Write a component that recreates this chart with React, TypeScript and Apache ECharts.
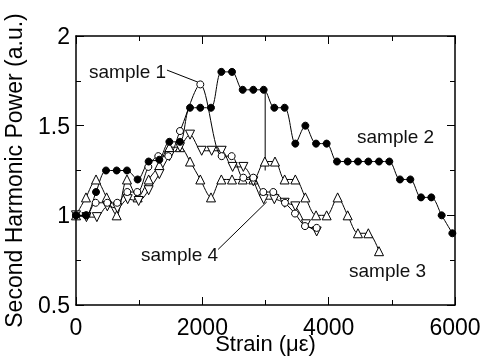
import React, { useEffect, useRef } from "react";
import * as echarts from "echarts";

const strain1 = [0, 165, 311, 495, 653, 812, 970, 1145, 1303, 1461, 1646, 1968, 2306, 2464, 2649, 2807, 2965, 3123, 3308, 3467, 3625, 3810];
const power1 = [1.0, 1.0, 1.07, 1.07, 1.07, 1.13, 1.13, 1.27, 1.33, 1.33, 1.47, 1.73, 1.33, 1.33, 1.21, 1.21, 1.13, 1.13, 1.07, 1.01, 0.94, 0.93];

const strain2 = [0, 158, 317, 475, 644, 807, 976, 1150, 1319, 1478, 1646, 1805, 1968, 2137, 2301, 2470, 2639, 2807, 2971, 3140, 3303, 3472, 3631, 3800, 3968, 4132, 4301, 4464, 4628, 4797, 4960, 5129, 5293, 5462, 5625, 5789, 5958];
const power2 = [1.0, 1.0, 1.13, 1.25, 1.25, 1.25, 1.2, 1.3, 1.31, 1.41, 1.41, 1.6, 1.6, 1.6, 1.8, 1.8, 1.7, 1.7, 1.7, 1.6, 1.6, 1.4, 1.5, 1.4, 1.4, 1.3, 1.3, 1.3, 1.3, 1.3, 1.3, 1.2, 1.2, 1.1, 1.1, 1.0, 0.9];

const strain3 = [0, 158, 317, 485, 644, 807, 976, 1150, 1319, 1478, 1646, 1805, 1968, 2137, 2301, 2470, 2639, 2807, 2990, 3150, 3303, 3472, 3631, 3800, 3968, 4142, 4301, 4464, 4628, 4797];
const power3 = [1.0, 1.1, 1.2, 1.1, 1.0, 1.2, 1.1, 1.2, 1.28, 1.38, 1.38, 1.3, 1.2, 1.1, 1.2, 1.2, 1.2, 1.2, 1.3, 1.3, 1.2, 1.2, 1.1, 1.0, 1.0, 1.1, 1.0, 0.9, 0.9, 0.8];

const strain4 = [0, 165, 330, 496, 655, 818, 992, 1150, 1319, 1478, 1646, 1805, 1990, 2148, 2306, 2480, 2649, 2807, 2971, 3140, 3303, 3472, 3640, 3810];
const power4 = [1.0, 0.99, 0.99, 1.05, 1.04, 1.09, 1.08, 1.14, 1.23, 1.33, 1.38, 1.45, 1.36, 1.36, 1.36, 1.27, 1.27, 1.19, 1.09, 1.09, 1.07, 1.05, 0.95, 0.91];

// leader / annotation lines (data coordinates)
const leader1 = [[1440, 1.81], [1950, 1.74]];
const leader4 = [[2250, 0.81], [3020, 1.075]];
const verticalMark = [[2995, 1.7], [2995, 1.25]];

const xTicks = { min: 0, max: 6000, interval: 2000 };
const yTicks = { min: 0.5, max: 2, interval: 0.5 };

const labels = [
  { text: "sample 1", x: 89, y: 71 },
  { text: "sample 2", x: 357, y: 136 },
  { text: "sample 3", x: 349, y: 270 },
  { text: "sample 4", x: 141, y: 254 },
];

const FONT = '"Liberation Sans", Arial, sans-serif';

function zip(xs: number[], ys: number[]) {
  return xs.map((x, i) => [x, ys[i]]);
}

export default function App() {
  const ref = useRef<HTMLDivElement>(null);
  useEffect(() => {
    if (!ref.current) return;
    const chart = echarts.init(ref.current, undefined, { renderer: "svg" });
    const axisCommon = {
      type: "value",
      axisLine: { show: true, onZero: false, lineStyle: { color: "#000", width: 1.5 } },
      axisTick: { show: true, inside: true, length: 8, lineStyle: { color: "#000", width: 1 } },
      minorTick: { show: true, splitNumber: 2, length: 5, lineStyle: { color: "#000", width: 1 } },
      splitLine: { show: false },
    };
    const lineSeries = (data: number[][], symbol: string, filled: boolean, size: number, rotate = 0) => ({
      type: "line",
      data,
      smooth: 0.3,
      symbol,
      symbolSize: size,
      symbolRotate: rotate,
      showAllSymbol: true,
      lineStyle: { color: "#000", width: 1 },
      itemStyle: { color: filled ? "#000" : "#fff", borderColor: "#000", borderWidth: 1 },
      emphasis: { disabled: true },
      z: 3,
    });
    const plain = (data: number[][]) => ({
      type: "line",
      data,
      symbol: "none",
      lineStyle: { color: "#000", width: 1 },
      silent: true,
      z: 2,
    });
    chart.setOption({
      animation: false,
      grid: { left: 76, right: 26, top: 36, bottom: 51, containLabel: false, outerBoundsMode: "none" },
      xAxis: [
        {
          ...axisCommon,
          ...xTicks,
          position: "bottom",
          axisLabel: { margin: 10, fontSize: 23, color: "#000", fontFamily: FONT, formatter: (v: number) => String(v) },
          name: "Strain (με)",
          nameLocation: "middle",
          nameGap: 27,
          nameMoveOverlap: false,
          nameTextStyle: { fontSize: 22, color: "#000", fontFamily: FONT },
        },
        {
          ...axisCommon,
          ...xTicks,
          position: "top",
          axisLabel: { show: false },
        },
      ],
      yAxis: [
        {
          ...axisCommon,
          ...yTicks,
          position: "left",
          axisLabel: { margin: 6, fontSize: 23, color: "#000", fontFamily: FONT },
          name: "Second Harmonic Power (a.u.)",
          nameLocation: "middle",
          nameGap: 51,
          nameMoveOverlap: false,
          nameTextStyle: { fontSize: 23, color: "#000", fontFamily: FONT },
        },
        {
          ...axisCommon,
          ...yTicks,
          position: "right",
          axisLabel: { show: false },
        },
      ],
      series: [
        plain(leader1),
        plain(leader4),
        plain(verticalMark),
        lineSeries(zip(strain3, power3), "triangle", false, 9),
        lineSeries(zip(strain4, power4), "triangle", false, 9, 180),
        lineSeries(zip(strain1, power1), "circle", false, 7),
        lineSeries(zip(strain2, power2), "circle", true, 7),
      ],
      graphic: labels.map((l) => ({
        type: "text",
        x: l.x,
        y: l.y,
        style: { text: l.text, font: `19px ${FONT}`, fill: "#111", verticalAlign: "middle", align: "left" },
        z: 10,
      })),
    });
    return () => chart.dispose();
  }, []);
  return <div ref={ref} style={{ position: "fixed", left: 0, top: 0, width: 481, height: 356 }} />;
}
